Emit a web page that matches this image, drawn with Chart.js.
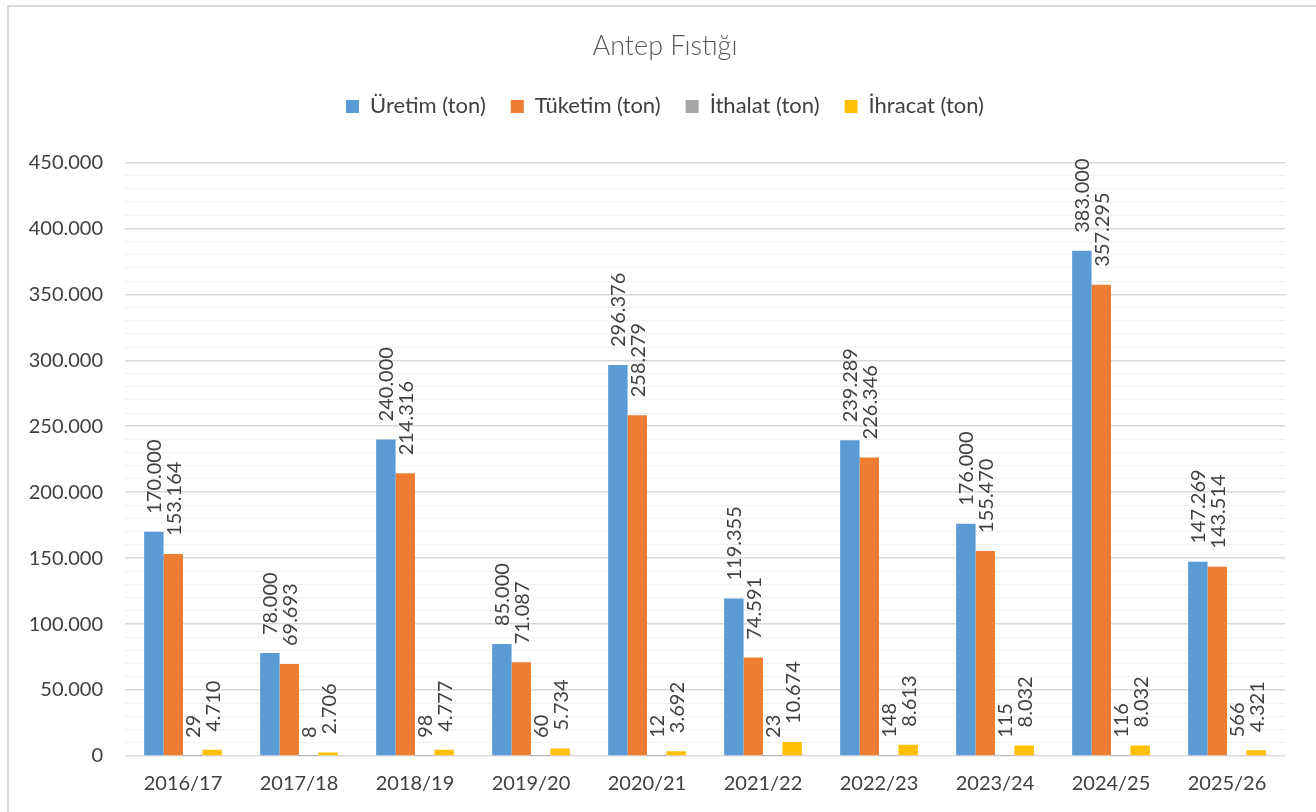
<!DOCTYPE html>
<html>
<head>
<meta charset="utf-8">
<script src="https://cdn.jsdelivr.net/npm/chart.js@4/dist/chart.umd.min.js"></script>
<style>
  html, body { margin: 0; padding: 0; background: #fff; }
  #wrap { position: relative; width: 1316px; height: 812px; }
  #frame { position: absolute; left: 7px; top: 5px; width: 1330px; height: 830px;
           border-left: 2px solid #d9d9d9; border-top: 2px solid #d9d9d9; box-sizing: border-box; }
  canvas { position: absolute; left: 0; top: 0; }
</style>
</head>
<body>
<div id="wrap">
  <div id="frame"></div>
  <canvas id="pistachio" width="1316" height="812"></canvas>
</div>
<script>
var seasons = ["2016/17", "2017/18", "2018/19", "2019/20", "2020/21", "2021/22", "2022/23", "2023/24", "2024/25", "2025/26"];
var production = [170000, 78000, 240000, 85000, 296376, 119355, 239289, 176000, 383000, 147269];
var consumption = [153164, 69693, 214316, 71087, 258279, 74591, 226346, 155470, 357295, 143514];
var imports = [29, 8, 98, 60, 12, 23, 148, 115, 116, 566];
var exports = [4710, 2706, 4777, 5734, 3692, 10674, 8613, 8032, 8032, 4321];

var fontName = "Lato, 'Noto Sans', sans-serif";

// 170000 -> "170.000"
function fmt(v) {
    return String(Math.round(v)).replace(/\B(?=(\d{3})+(?!\d))/g, '.');
}

// vertical value labels above each bar
var barLabels = {
    id: 'barLabels',
    afterDatasetsDraw: function(chart) {
        var c = chart.ctx;
        c.save();
        c.font = '20px ' + fontName;
        c.fillStyle = '#404040';
        c.textAlign = 'left';
        c.textBaseline = 'middle';
        chart.data.datasets.forEach(function(ds, i) {
            var meta = chart.getDatasetMeta(i);
            meta.data.forEach(function(bar, j) {
                c.save();
                c.translate(bar.x, bar.y - 18);
                c.rotate(-Math.PI / 2);
                c.fillText(fmt(ds.data[j]), 0, 1);
                c.restore();
            });
        });
        c.restore();
    }
};

// extra room between legend and plot, and title/legend centred a bit to the right
var headerTweak = {
    id: 'headerTweak',
    beforeInit: function(chart) {
        var fit = chart.legend.fit;
        chart.legend.fit = function() {
            fit.bind(chart.legend)();
            this.height += 35;
        };
    },
    afterLayout: function(chart) {
        chart.titleBlock.left = 45;
        chart.legend.left = 45;
    }
};

var ctx = document.getElementById('pistachio').getContext('2d');
var chart = new Chart(ctx, {
    type: 'bar',
    data: {
        labels: seasons,
        datasets: [
            { label: 'Üretim (ton)', data: production, backgroundColor: '#5B9BD5' },
            { label: 'Tüketim (ton)', data: consumption, backgroundColor: '#ED7D31' },
            { label: 'İthalat (ton)', data: imports, backgroundColor: '#A5A5A5' },
            { label: 'İhracat (ton)', data: exports, backgroundColor: '#FFC000' }
        ]
    },
    options: {
        responsive: false,
        animation: false,
        layout: { padding: { top: 30, right: 31, bottom: 0, left: 0 } },
        datasets: {
            bar: { categoryPercentage: 0.67, barPercentage: 1.0, borderWidth: 0 }
        },
        plugins: {
            title: {
                display: true,
                text: 'Antep Fıstığı',
                color: '#595959',
                font: { family: fontName, size: 27, weight: '300' },
                padding: { top: 0, bottom: 8 }
            },
            legend: {
                position: 'top',
                labels: {
                    color: '#404040',
                    font: { family: fontName, size: 22 },
                    boxWidth: 13,
                    boxHeight: 13,
                    padding: 25
                }
            },
            tooltip: { enabled: false }
        },
        scales: {
            x: {
                grid: { display: false, drawTicks: false },
                border: { display: false },
                ticks: { color: '#404040', font: { family: fontName, size: 20 }, padding: 16, maxRotation: 0 }
            },
            y: {
                min: 0,
                max: 450000,
                afterFit: function(scale) { scale.width = 125; },
                border: { display: false },
                grid: {
                    drawTicks: false,
                    color: function(c) { return c.tick && c.tick.value % 50000 === 0 ? '#d9d9d9' : '#f0f0f0'; },
                    lineWidth: function(c) { return c.tick && c.tick.value % 50000 === 0 ? 1.5 : 1; }
                },
                ticks: {
                    stepSize: 10000,
                    autoSkip: false,
                    padding: 22,
                    color: '#404040',
                    font: { family: fontName, size: 20 },
                    callback: function(v) { return v % 50000 === 0 ? fmt(v) : ''; }
                }
            }
        }
    },
    plugins: [barLabels, headerTweak]
});
</script>
</body>
</html>
